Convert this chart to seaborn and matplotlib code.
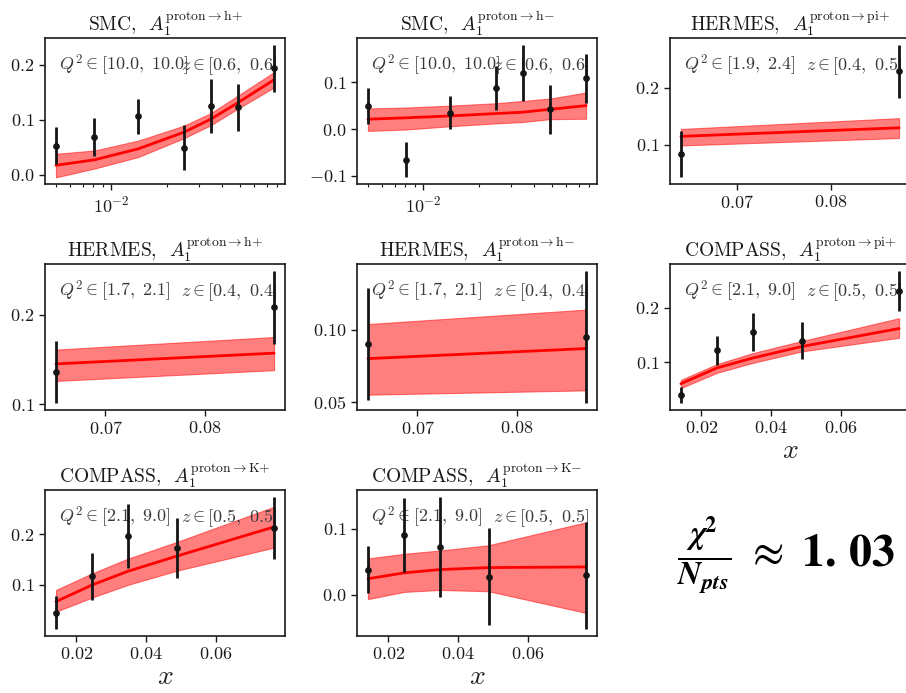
import numpy as np
import pandas as pd
import matplotlib
matplotlib.use("Agg")
import matplotlib.pyplot as plt
import matplotlib.ticker as mticker
import seaborn as sns

# ---------------- data ----------------
x_smc = [0.0050, 0.0081, 0.0140, 0.0247, 0.0347, 0.0487, 0.0767]
x_compass = [0.0141, 0.0245, 0.0347, 0.0487, 0.0767]
x_hermes_pi = [0.0641, 0.0872]
x_hermes_h = [0.0650, 0.0870]

titles = [
    r"SMC,  $A_1^{\mathrm{proton}\rightarrow\mathrm{h}{+}}$",
    r"SMC,  $A_1^{\mathrm{proton}\rightarrow\mathrm{h}{-}}$",
    r"HERMES,  $A_1^{\mathrm{proton}\rightarrow\mathrm{pi}{+}}$",
    r"HERMES,  $A_1^{\mathrm{proton}\rightarrow\mathrm{h}{+}}$",
    r"HERMES,  $A_1^{\mathrm{proton}\rightarrow\mathrm{h}{-}}$",
    r"COMPASS,  $A_1^{\mathrm{proton}\rightarrow\mathrm{pi}{+}}$",
    r"COMPASS,  $A_1^{\mathrm{proton}\rightarrow\mathrm{K}{+}}$",
    r"COMPASS,  $A_1^{\mathrm{proton}\rightarrow\mathrm{K}{-}}$",
]
q2_labels = [r"$Q^2\in[10.0,\ 10.0]$", r"$Q^2\in[10.0,\ 10.0]$",
             r"$Q^2\in[1.9,\ 2.4]$", r"$Q^2\in[1.7,\ 2.1]$",
             r"$Q^2\in[1.7,\ 2.1]$", r"$Q^2\in[2.1,\ 9.0]$",
             r"$Q^2\in[2.1,\ 9.0]$", r"$Q^2\in[2.1,\ 9.0]$"]
z_labels = [r"$z\in[0.6,\ 0.6]$", r"$z\in[0.6,\ 0.6]$",
            r"$z\in[0.4,\ 0.5]$", r"$z\in[0.4,\ 0.4]$",
            r"$z\in[0.4,\ 0.4]$", r"$z\in[0.5,\ 0.5]$",
            r"$z\in[0.5,\ 0.5]$", r"$z\in[0.5,\ 0.5]$"]

# SMC h+
y_smc_hp = [0.053, 0.069, 0.106, 0.049, 0.125, 0.123, 0.194]
e_smc_hp = [0.033, 0.035, 0.032, 0.041, 0.050, 0.043, 0.043]
t_smc_hp = [0.017, 0.027, 0.047, 0.077, 0.101, 0.131, 0.173]
lo_smc_hp = [-0.005, 0.011, 0.032, 0.066, 0.090, 0.120, 0.159]
hi_smc_hp = [0.038, 0.044, 0.062, 0.089, 0.112, 0.144, 0.187]
# SMC h-
y_smc_hm = [0.049, -0.065, 0.035, 0.088, 0.120, 0.042, 0.108]
e_smc_hm = [0.038, 0.038, 0.035, 0.047, 0.060, 0.052, 0.053]
t_smc_hm = [0.021, 0.024, 0.028, 0.033, 0.036, 0.042, 0.050]
lo_smc_hm = [-0.004, -0.001, 0.006, 0.012, 0.015, 0.021, 0.022]
hi_smc_hm = [0.044, 0.046, 0.050, 0.055, 0.060, 0.065, 0.078]
# HERMES pi+
y_her_pip = [0.084, 0.229]
e_her_pip = [0.041, 0.047]
t_her_pip = [0.115, 0.130]
lo_her_pip = [0.099, 0.112]
hi_her_pip = [0.128, 0.147]
# HERMES h+
y_her_hp = [0.136, 0.208]
e_her_hp = [0.035, 0.041]
t_her_hp = [0.145, 0.157]
lo_her_hp = [0.126, 0.138]
hi_her_hp = [0.161, 0.175]
# HERMES h-
y_her_hm = [0.090, 0.095]
e_her_hm = [0.039, 0.046]
t_her_hm = [0.080, 0.087]
lo_her_hm = [0.055, 0.058]
hi_her_hm = [0.104, 0.114]
# COMPASS pi+
y_com_pip = [0.040, 0.122, 0.156, 0.140, 0.231]
e_com_pip = [0.015, 0.027, 0.035, 0.034, 0.037]
t_com_pip = [0.061, 0.090, 0.108, 0.129, 0.162]
lo_com_pip = [0.053, 0.081, 0.099, 0.120, 0.145]
hi_com_pip = [0.068, 0.097, 0.117, 0.139, 0.181]
# COMPASS K+
y_com_kp = [0.045, 0.117, 0.197, 0.173, 0.213]
e_com_kp = [0.033, 0.047, 0.063, 0.059, 0.062]
t_com_kp = [0.067, 0.100, 0.127, 0.157, 0.215]
lo_com_kp = [0.047, 0.075, 0.100, 0.128, 0.174]
hi_com_kp = [0.090, 0.123, 0.152, 0.185, 0.255]
# COMPASS K-
y_com_km = [0.038, 0.091, 0.073, 0.027, 0.029]
e_com_km = [0.036, 0.056, 0.076, 0.074, 0.082]
t_com_km = [0.024, 0.033, 0.038, 0.041, 0.042]
lo_com_km = [-0.007, 0.004, 0.007, 0.005, -0.028]
hi_com_km = [0.055, 0.062, 0.067, 0.075, 0.110]

yticks = [[0.0, 0.1, 0.2], [-0.1, 0.0, 0.1], [0.1, 0.2], [0.1, 0.2],
          [0.05, 0.10], [0.1, 0.2], [0.1, 0.2], [0.0, 0.1]]
xticks = [None, None, [0.07, 0.08], [0.07, 0.08], [0.07, 0.08],
          [0.02, 0.04, 0.06], [0.02, 0.04, 0.06], [0.02, 0.04, 0.06]]

panels = [
    (x_smc, y_smc_hp, e_smc_hp, t_smc_hp, lo_smc_hp, hi_smc_hp),
    (x_smc, y_smc_hm, e_smc_hm, t_smc_hm, lo_smc_hm, hi_smc_hm),
    (x_hermes_pi, y_her_pip, e_her_pip, t_her_pip, lo_her_pip, hi_her_pip),
    (x_hermes_h, y_her_hp, e_her_hp, t_her_hp, lo_her_hp, hi_her_hp),
    (x_hermes_h, y_her_hm, e_her_hm, t_her_hm, lo_her_hm, hi_her_hm),
    (x_compass, y_com_pip, e_com_pip, t_com_pip, lo_com_pip, hi_com_pip),
    (x_compass, y_com_kp, e_com_kp, t_com_kp, lo_com_kp, hi_com_kp),
    (x_compass, y_com_km, e_com_km, t_com_km, lo_com_km, hi_com_km),
]
log_x = [True, True, False, False, False, False, False, False]
show_xlabel = [False, False, False, False, False, True, True, True]

# ---------------- style ----------------
sns.set_style("ticks")
plt.rcParams["font.family"] = ["cmr10", "DejaVu Serif"]
plt.rcParams["mathtext.fontset"] = "cm"
plt.rcParams["axes.formatter.use_mathtext"] = True
plt.rcParams["axes.unicode_minus"] = False
plt.rcParams["axes.edgecolor"] = "#1a1a1a"
plt.rcParams["axes.linewidth"] = 1.2
plt.rcParams["xtick.color"] = "#1a1a1a"
plt.rcParams["ytick.color"] = "#1a1a1a"
plt.rcParams["text.color"] = "#1a1a1a"

W, H = 906, 693
fig = plt.figure(figsize=(W / 100, H / 100), dpi=100)
col_left = [45, 357, 670]
row_top = [38, 264, 490]
aw, ah = 240, 146

for i, (xs, ys, es, ts, los, his) in enumerate(panels):
    r, c = divmod(i, 3)
    ax = fig.add_axes([col_left[c] / W, 1 - (row_top[r] + ah) / H, aw / W, ah / H])
    df = pd.DataFrame({"x": xs, "y": ys, "err": es, "th": ts, "lo": los, "hi": his})
    ax.fill_between(df["x"], df["lo"], df["hi"], color="red", alpha=0.5, lw=0.8)
    sns.lineplot(data=df, x="x", y="th", ax=ax, color="red", lw=2.0, zorder=3)
    ax.errorbar(df["x"], df["y"], yerr=df["err"], fmt="o", color="#151515",
                ms=3.8, elinewidth=2.0, capsize=0, zorder=4)
    if log_x[i]:
        ax.set_xscale("log")
        ax.xaxis.set_minor_formatter(mticker.NullFormatter())
    else:
        ax.set_xticks(xticks[i])
    ax.set_yticks(yticks[i])
    ax.tick_params(axis="both", labelsize=13, width=1.0, length=4)
    ax.tick_params(axis="x", which="minor", width=0.8, length=2.5)
    ax.set_ylabel("")
    if show_xlabel[i]:
        ax.set_xlabel(r"$x$", fontsize=20, labelpad=1)
    else:
        ax.set_xlabel("")
    ax.set_title(titles[i], fontsize=14, pad=5)
    ax.text(0.06, 0.81, q2_labels[i], transform=ax.transAxes, fontsize=13,
            va="center", ha="left", color="#3a3a3a")
    ax.text(0.565, 0.81, z_labels[i], transform=ax.transAxes, fontsize=13,
            va="center", ha="left", color="#3a3a3a")

chi_candidates = [
    r"$\frac{\mathbfit{\chi}^{\mathbf{2}}}{\mathbfit{N}_{\mathbfit{pts}}}\ \approx\ \mathbf{1.\,03}$",
    r"$\frac{\boldsymbol{\chi}^{\mathbf{2}}}{\boldsymbol{N}_{\boldsymbol{pts}}}\ \approx\ \mathbf{1.\,03}$",
    r"$\frac{\chi^{2}}{N_{pts}}\ \approx\ \mathbf{1.\,03}$",
]
for cand in chi_candidates:
    t = fig.text(786 / W, 1 - 555 / H, cand, fontsize=33, ha="center",
                 va="center", math_fontfamily="stix", color="black")
    try:
        fig.canvas.draw()
        break
    except Exception:
        t.remove()

fig.savefig("out.png", dpi=100)
